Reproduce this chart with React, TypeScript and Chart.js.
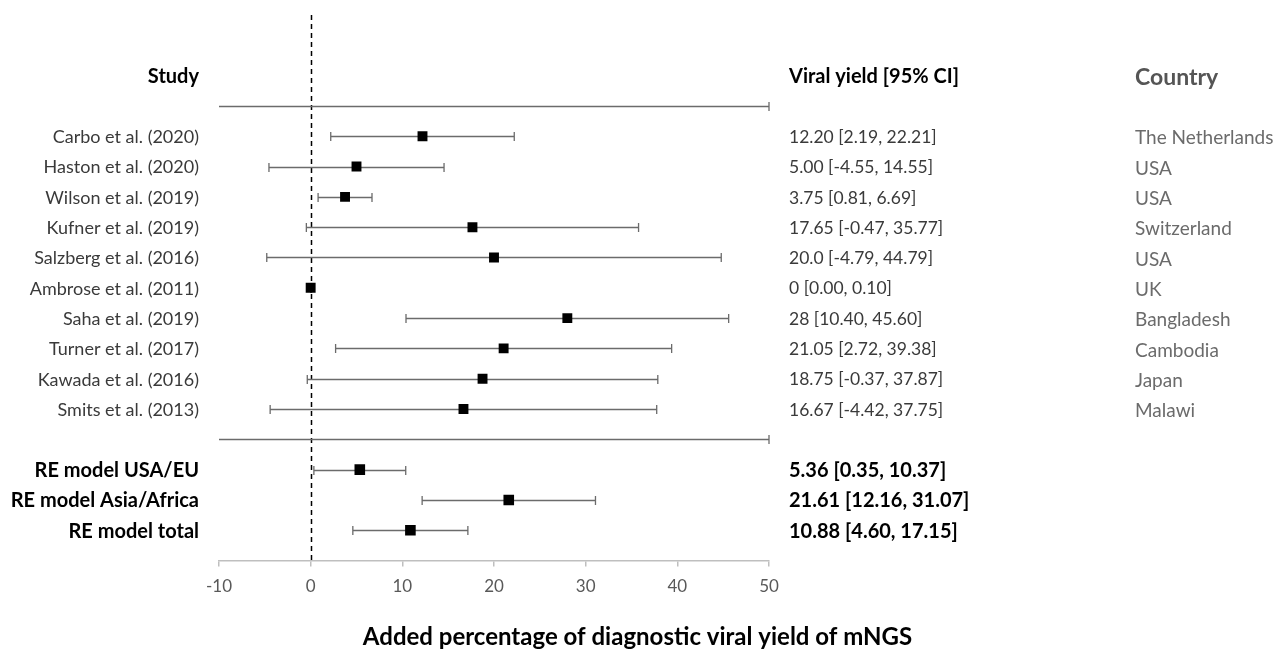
import React, { useEffect, useRef } from "react";
import { Chart, registerables } from "chart.js";

Chart.register(...registerables);

const studies = [
  "Carbo et al. (2020)",
  "Haston et al. (2020)",
  "Wilson et al. (2019)",
  "Kufner et al. (2019)",
  "Salzberg et al. (2016)",
  "Ambrose et al. (2011)",
  "Saha et al. (2019)",
  "Turner et al. (2017)",
  "Kawada et al. (2016)",
  "Smits et al. (2013)",
];
const studyYield = [12.2, 5.0, 3.75, 17.65, 20.0, 0, 28, 21.05, 18.75, 16.67];
const studyLower = [2.19, -4.55, 0.81, -0.47, -4.79, 0.0, 10.4, 2.72, -0.37, -4.42];
const studyUpper = [22.21, 14.55, 6.69, 35.77, 44.79, 0.1, 45.6, 39.38, 37.87, 37.75];
const studyYieldLabels = [
  "12.20 [2.19, 22.21]",
  "5.00 [-4.55, 14.55]",
  "3.75 [0.81, 6.69]",
  "17.65 [-0.47, 35.77]",
  "20.0 [-4.79, 44.79]",
  "0 [0.00, 0.10]",
  "28 [10.40, 45.60]",
  "21.05 [2.72, 39.38]",
  "18.75 [-0.37, 37.87]",
  "16.67 [-4.42, 37.75]",
];
const countries = [
  "The Netherlands",
  "USA",
  "USA",
  "Switzerland",
  "USA",
  "UK",
  "Bangladesh",
  "Cambodia",
  "Japan",
  "Malawi",
];
const models = ["RE model USA/EU", "RE model Asia/Africa", "RE model total"];
const modelYield = [5.36, 21.61, 10.88];
const modelLower = [0.35, 12.16, 4.6];
const modelUpper = [10.37, 31.07, 17.15];
const modelYieldLabels = ["5.36 [0.35, 10.37]", "21.61 [12.16, 31.07]", "10.88 [4.60, 17.15]"];
const separatorRows = [0, 11];
const xTicksMin = -10;
const xTicksMax = 50;
const xTitle = "Added percentage of diagnostic viral yield of mNGS";

const FONT = "Lato, 'Open Sans', sans-serif";

const studyRow = (i: number) => i + 1;
const modelRow = (i: number) => 12 + i;

const forestPlugin = {
  id: "forest",
  beforeDatasetsDraw(chart: any) {
    const { ctx, chartArea } = chart;
    const xs = chart.scales.x;
    const ys = chart.scales.y;
    ctx.save();
    ctx.strokeStyle = "#000";
    ctx.lineWidth = 1.5;
    ctx.setLineDash([5, 4]);
    const x0 = Math.round(xs.getPixelForValue(0)) + 0.5;
    ctx.beginPath();
    ctx.moveTo(x0, chartArea.top);
    ctx.lineTo(x0, chartArea.bottom);
    ctx.stroke();
    ctx.setLineDash([]);

    const whisker = (lo: number, hi: number, row: number) => {
      const y = Math.round(ys.getPixelForValue(row)) + 0.5;
      const a = xs.getPixelForValue(lo);
      const b = xs.getPixelForValue(hi);
      ctx.strokeStyle = "#6b6b6b";
      ctx.lineWidth = 1.3;
      ctx.beginPath();
      ctx.moveTo(a, y);
      ctx.lineTo(b, y);
      ctx.moveTo(a, y - 4.5);
      ctx.lineTo(a, y + 4.5);
      ctx.moveTo(b, y - 4.5);
      ctx.lineTo(b, y + 4.5);
      ctx.stroke();
    };
    studies.forEach((_, i) => whisker(studyLower[i], studyUpper[i], studyRow(i)));
    models.forEach((_, i) => whisker(modelLower[i], modelUpper[i], modelRow(i)));

    separatorRows.forEach((r) => {
      const y = Math.round(ys.getPixelForValue(r)) + 0.5;
      const a = xs.getPixelForValue(xTicksMin);
      const b = xs.getPixelForValue(xTicksMax);
      ctx.strokeStyle = "#6b6b6b";
      ctx.lineWidth = 1.3;
      ctx.beginPath();
      ctx.moveTo(a, y);
      ctx.lineTo(b, y);
      ctx.moveTo(b, y - 4.5);
      ctx.lineTo(b, y + 4.5);
      ctx.stroke();
    });
    ctx.restore();
  },
  afterDraw(chart: any) {
    const { ctx } = chart;
    const ys = chart.scales.y;
    const labelRight = 199;
    const yieldLeft = 789;
    const countryLeft = 1135;
    ctx.save();
    ctx.textBaseline = "middle";
    const hy = ys.getPixelForValue(-1) + 1;
    ctx.fillStyle = "#000";
    ctx.font = `bold 20px ${FONT}`;
    ctx.textAlign = "right";
    ctx.fillText("Study", labelRight, hy);
    ctx.textAlign = "left";
    ctx.fillText("Viral yield [95% CI]", yieldLeft, hy);
    ctx.fillStyle = "#555555";
    ctx.font = `bold 23px ${FONT}`;
    ctx.fillText("Country", countryLeft, hy + 1);

    studies.forEach((s, i) => {
      const y = ys.getPixelForValue(studyRow(i)) + 1;
      ctx.font = `18px ${FONT}`;
      ctx.fillStyle = "#3a3a3a";
      ctx.textAlign = "right";
      ctx.fillText(s, labelRight, y);
      ctx.textAlign = "left";
      ctx.font = `17.5px ${FONT}`;
      ctx.fillText(studyYieldLabels[i], yieldLeft, y);
      ctx.fillStyle = "#6b6b6b";
      ctx.font = `19px ${FONT}`;
      ctx.fillText(countries[i], countryLeft, y + 1);
    });
    models.forEach((m, i) => {
      const y = ys.getPixelForValue(modelRow(i)) + 1;
      ctx.font = `bold 20px ${FONT}`;
      ctx.fillStyle = "#000";
      ctx.textAlign = "right";
      ctx.fillText(m, labelRight, y);
      ctx.textAlign = "left";
      ctx.fillText(modelYieldLabels[i], yieldLeft, y);
    });
    ctx.font = `bold 24px ${FONT}`;
    ctx.fillStyle = "#000";
    ctx.textAlign = "center";
    ctx.fillText(xTitle, chart.width / 2, 637);
    ctx.restore();
  },
};

export default function App() {
  const ref = useRef<HTMLCanvasElement | null>(null);
  useEffect(() => {
    if (!ref.current) return;
    const chart = new Chart(ref.current, {
      type: "scatter",
      data: {
        datasets: [
          {
            label: "Studies",
            data: studyYield.map((v, i) => ({ x: v, y: studyRow(i) })),
            pointStyle: "rect",
            pointRadius: 7,
            backgroundColor: "#000",
            borderColor: "#000",
            borderWidth: 0,
          },
          {
            label: "Models",
            data: modelYield.map((v, i) => ({ x: v, y: modelRow(i) })),
            pointStyle: "rect",
            pointRadius: 7.5,
            backgroundColor: "#000",
            borderColor: "#000",
            borderWidth: 0,
          },
        ],
      },
      options: {
        animation: false,
        responsive: true,
        maintainAspectRatio: false,
        layout: { padding: { left: 219, right: 506, top: 15, bottom: 44 } },
        plugins: { legend: { display: false }, tooltip: { enabled: false } },
        scales: {
          x: {
            type: "linear",
            min: xTicksMin,
            max: xTicksMax,
            ticks: {
              stepSize: 10,
              color: "#595959",
              font: { family: FONT, size: 17 },
              padding: 10,
            },
            grid: {
              drawOnChartArea: false,
              drawTicks: true,
              tickLength: 6,
              color: "#bfbfbf",
              lineWidth: 1.5,
            },
            border: { display: true, color: "#bfbfbf", width: 1.5 },
          },
          y: {
            type: "linear",
            display: false,
            min: -3,
            max: 15,
            reverse: true,
          },
        },
      },
      plugins: [forestPlugin],
    });
    return () => chart.destroy();
  }, []);
  return (
    <div style={{ position: "absolute", left: 0, top: 0, width: 1275, height: 651, background: "#fff" }}>
      <canvas ref={ref} />
    </div>
  );
}
